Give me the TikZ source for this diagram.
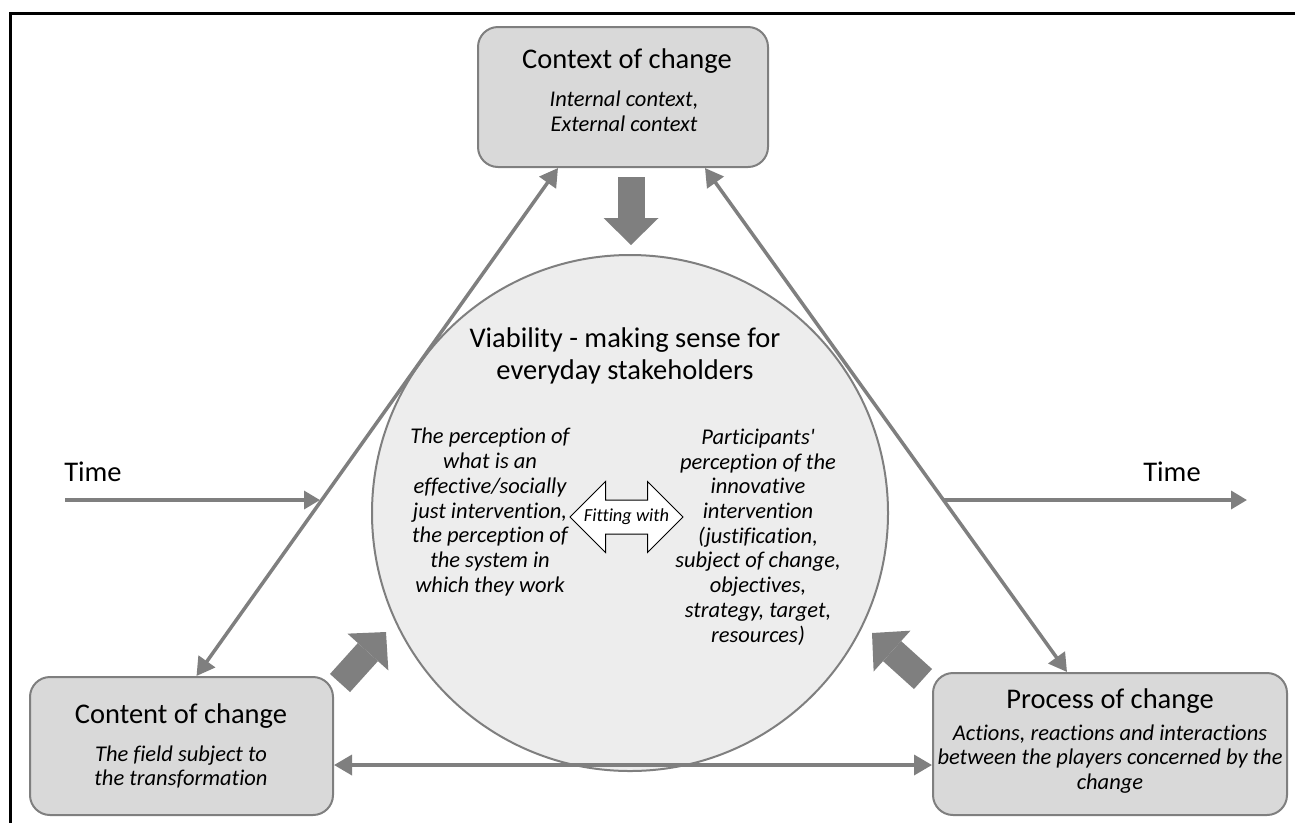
\documentclass[tikz,border=0pt]{standalone}
\usepackage{fontspec}
\setmainfont{Carlito}[Ligatures=NoCommon]
\usetikzlibrary{arrows.meta,shapes.arrows}

\definecolor{linegray}{HTML}{7F7F7F}
\definecolor{boxgray}{HTML}{D9D9D9}
\definecolor{hubgray}{HTML}{EDEDED}

\newcommand{\headfont}{\fontsize{28.5}{32}\selectfont}
\newcommand{\notefont}{\fontsize{22.5}{24.7}\selectfont\itshape}
\newcommand{\smallnote}{\fontsize{18.4}{20}\selectfont\itshape}

\begin{document}
\begin{tikzpicture}[x=1pt,y=-1pt,
  every node/.style={align=center,inner sep=0pt},
  box/.style={draw=linegray,line width=2pt,rounded corners=20pt,fill=boxgray},
  hub/.style={circle,draw=linegray,line width=2pt,fill=hubgray},
  head/.style={font=\headfont},
  note/.style={font=\notefont},
  link/.style={draw=linegray,line width=3.5pt,{Triangle[width=20pt,length=18pt]}-{Triangle[width=20pt,length=18pt]}},
  time/.style={draw=linegray,line width=3.5pt,-{Triangle[width=18pt,length=16pt]}},
  fat/.style={draw=linegray,line width=27pt,-{Triangle[width=55pt,length=27pt,line width=0pt]}},
  twoway/.style={double arrow,draw=black,line width=1pt,fill=white,double arrow head extend=18.5pt,
                 minimum height=113pt,text height=16pt,text depth=0pt,inner xsep=0pt,inner ysep=8.5pt}]

  \useasboundingbox (0,0) rectangle (1295,823);

  % frame
  \draw[line width=3pt] (1295,13) -- (10,13) -- (10,823);

  % the three boxes
  \node[box,minimum width=290pt,minimum height=140pt] (ctx) at (623,97) {};
  \node[head] (ctx title) at (627,61) {Context of change};
  \node[note] (ctx body) at (624,111) {Internal context,\\External context};

  \node[box,minimum width=303pt,minimum height=138pt] (cont) at (181.5,746) {};
  \node[head] (cont title) at (181,716) {Content of change};
  \node[note] (cont body) at (181,767) {The field subject to\\the transformation};

  \node[box,minimum width=354pt,minimum height=142pt] (proc) at (1110,744) {};
  \node[head] (proc title) at (1110,701) {Process of change};
  \node[note] (proc body) at (1110,759) {Actions, reactions and interactions\\between the players concerned by the\\change};

  % the circle in the middle
  \node[hub,minimum size=516pt] (hub) at (630,513) {};
  \node[head] (hub title) at (625,356) {Viability - making sense for\\everyday stakeholders};
  \node[note] (hub left) at (490,512) {The perception of\\what is an\\effective/socially\\just intervention,\\the perception of\\the system in\\which they work};
  \node[note] (hub right) at (758,537) {Participants\textquotesingle\\perception of the\\innovative\\intervention\\(justification,\\subject of change,\\objectives,\\strategy, target,\\resources)};
  \node[twoway] (fitting) at (626.5,517) {};
  \node[font=\smallnote] (fitting text) at (fitting) {Fitting with};

  % links between the boxes
  \draw[link] ([xshift=15pt]cont.north) -- ([xshift=-65pt]ctx.south);
  \draw[link] ([xshift=82pt]ctx.south) -- ([xshift=-43pt]proc.north);
  \draw[link] ([yshift=-19pt]cont.east) -- ([yshift=-19pt]cont.east -| proc.west);

  % time
  \coordinate (time in) at (65,500);
  \coordinate (time cross) at (320,500);
  \coordinate (time from) at (943,500);
  \coordinate (time out) at (1247,500);
  \draw[time] (time in) -- (time cross);
  \draw[time] (time from) -- (time out);
  \node[head] (time left) at (93,472) {Time};
  \node[head] (time right) at (1172,472) {Time};

  % big arrows into the circle
  \coordinate (ctx push) at (631,177);
  \coordinate (ctx hit) at (631,245);
  \coordinate (cont push) at (340,683);
  \coordinate (cont hit) at (386,632);
  \coordinate (proc push) at (923,679);
  \coordinate (proc hit) at (872,633);
  \draw[fat] (ctx push) -- (ctx hit);
  \draw[fat] (cont push) -- (cont hit);
  \draw[fat] (proc push) -- (proc hit);
\end{tikzpicture}
\end{document}
